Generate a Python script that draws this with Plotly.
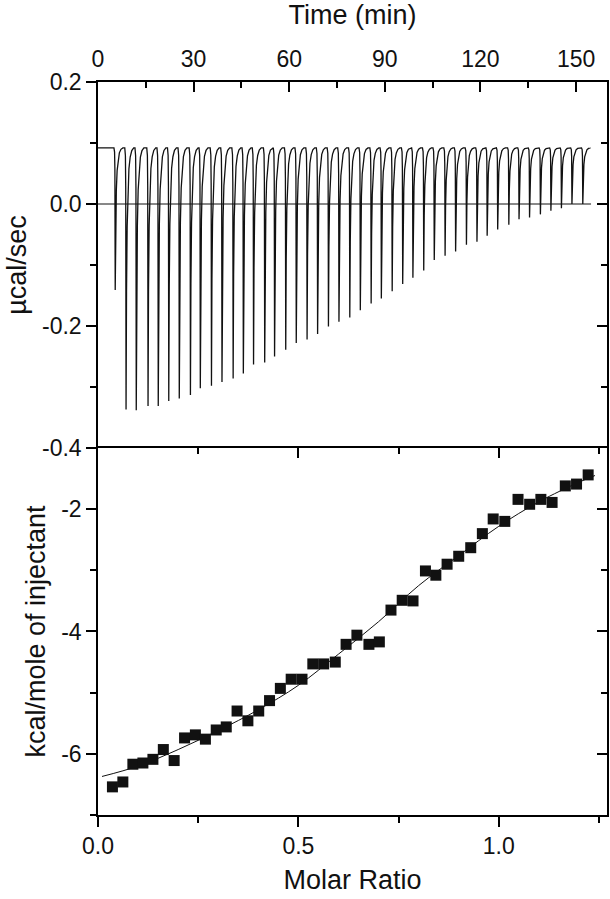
import plotly.graph_objects as go

# ── Raw ITC thermogram (top) ───────────────────────────────────────────────
inj_time = [5.3, 8.7, 11.9, 15.6, 18.8, 22.1, 25.4, 28.9, 32.0, 35.5, 38.8,
            42.3, 45.5, 48.7, 52.2, 55.3, 58.8, 62.1, 65.5, 68.8, 72.2, 75.5,
            78.9, 82.2, 85.6, 88.8, 92.2, 95.5, 98.7, 102.1, 105.4, 108.8,
            112.1, 115.5, 118.8, 122.0, 125.3, 128.8, 132.0, 135.3, 138.7,
            142.0, 145.3, 148.6, 152.0]
inj_min = [-0.141, -0.337, -0.338, -0.331, -0.331, -0.323, -0.319, -0.313,
           -0.302, -0.298, -0.292, -0.286, -0.278, -0.263, -0.260, -0.250,
           -0.239, -0.228, -0.222, -0.213, -0.201, -0.193, -0.186, -0.174,
           -0.163, -0.155, -0.143, -0.131, -0.121, -0.109, -0.092, -0.085,
           -0.078, -0.067, -0.062, -0.052, -0.042, -0.034, -0.025, -0.022,
           -0.017, -0.011, -0.007, 0.000, 0.000]
baseline = 0.092
trace_end = 154.4
zero_line_x = [0, 154.7]
zero_line_y = [0, 0]

peak_dt = [-0.3, -0.1, 0.0, 0.1, 0.25, 0.45, 0.7, 1.0, 1.4, 1.9, 2.5]
peak_frac = [0, 0.03, 0.15, 1.0, 0.55, 0.3, 0.16, 0.08, 0.035, 0.01, 0]

# ── Integrated heats (bottom) ──────────────────────────────────────────────
molar_ratio = [0.036, 0.062, 0.087, 0.112, 0.137, 0.163, 0.190, 0.216, 0.243,
               0.268, 0.295, 0.320, 0.347, 0.374, 0.401, 0.428, 0.455, 0.482,
               0.509, 0.536, 0.563, 0.592, 0.619, 0.646, 0.676, 0.702, 0.731,
               0.759, 0.786, 0.817, 0.843, 0.871, 0.900, 0.930, 0.959, 0.986,
               1.015, 1.048, 1.077, 1.105, 1.133, 1.166, 1.194, 1.223]
heat = [-6.54, -6.46, -6.17, -6.15, -6.09, -5.93, -6.11, -5.74, -5.69, -5.76,
        -5.61, -5.56, -5.30, -5.46, -5.30, -5.13, -4.93, -4.78, -4.78, -4.53,
        -4.53, -4.50, -4.21, -4.06, -4.21, -4.17, -3.65, -3.49, -3.50, -3.01,
        -3.08, -2.90, -2.77, -2.63, -2.40, -2.16, -2.20, -1.84, -1.92, -1.84,
        -1.89, -1.62, -1.59, -1.44]
fit_x = [0.01, 0.1, 0.2, 0.3, 0.4, 0.5, 0.6, 0.7, 0.8, 0.9, 1.0, 1.1, 1.2, 1.24]
fit_y = [-6.37, -6.20, -5.93, -5.62, -5.28, -4.88, -4.37, -3.84, -3.25, -2.76,
         -2.28, -1.88, -1.56, -1.45]

# build the thermogram trace from the injection list
tx, ty = [0.0], [baseline]
for t, m in zip(inj_time, inj_min):
    for dt, f in zip(peak_dt, peak_frac):
        tx.append(t + dt)
        ty.append(baseline - (baseline - m) * f)
tx.append(trace_end)
ty.append(baseline)

FONT = "Liberation Sans, Arial, sans-serif"
INK = "#111111"
SPLIT = 0.5007

fig = go.Figure()
fig.add_trace(go.Scatter(x=zero_line_x, y=zero_line_y, mode="lines",
                         line=dict(color=INK, width=1), xaxis="x", yaxis="y"))
fig.add_trace(go.Scatter(x=tx, y=ty, mode="lines",
                         line=dict(color=INK, width=1.3), xaxis="x", yaxis="y"))
fig.add_trace(go.Scatter(x=[None], y=[None], xaxis="x", yaxis="y3"))
fig.add_trace(go.Scatter(x=fit_x, y=fit_y, mode="lines", line_shape="spline",
                         line=dict(color=INK, width=1), xaxis="x2", yaxis="y2"))
fig.add_trace(go.Scatter(x=molar_ratio, y=heat, mode="markers",
                         marker=dict(symbol="square", size=11, color=INK),
                         xaxis="x2", yaxis="y2"))
fig.add_trace(go.Scatter(x=[None], y=[None], xaxis="x3", yaxis="y2"))
fig.add_trace(go.Scatter(x=[None], y=[None], xaxis="x2", yaxis="y4"))

ax = dict(showline=True, linecolor="black", linewidth=1.5, showgrid=False,
          zeroline=False, tickcolor="black", tickwidth=1.5, ticklen=10,
          tickfont=dict(size=23, color=INK, family=FONT), tickmode="array",
          automargin=False)

t_ticks = [0, 30, 60, 90, 120, 150]
t_minor = [15, 45, 75, 105, 135]
p_ticks = [-0.4, -0.2, 0.0, 0.2]
p_text = ["-0.4", "-0.2", "0.0", "0.2"]
p_minor = [-0.3, -0.1, 0.1]
m_ticks = [0.0, 0.5, 1.0]
m_text = ["0.0", "0.5", "1.0"]
m_minor = [0.25, 0.75, 1.25]
h_ticks = [-6, -4, -2]
h_text = ["-6", "-4", "-2"]
h_minor = [-7, -5, -3, -1]

fig.update_layout(
    width=610, height=899, showlegend=False,
    paper_bgcolor="white", plot_bgcolor="white",
    margin=dict(l=98, r=3, t=82, b=84),
    font=dict(family=FONT, color=INK),
    xaxis=dict(ax, domain=[0, 1], anchor="y", side="top", range=[0, 159.7],
               tickvals=t_ticks, ticks="inside", ticklabelstandoff=4,
               minor=dict(tickvals=t_minor, ticks="inside", ticklen=6,
                          tickcolor="black", tickwidth=1.5),
               title=dict(text="Time (min)", font=dict(size=27), standoff=18)),
    yaxis=dict(ax, domain=[SPLIT, 1], anchor="x", range=[-0.4, 0.2],
               tickvals=p_ticks, ticktext=p_text, ticks="outside",
               minor=dict(tickvals=p_minor, ticks="outside", ticklen=6,
                          tickcolor="black", tickwidth=1.5),
               title=dict(text="µcal/sec", font=dict(size=27), standoff=8)),
    yaxis3=dict(ax, overlaying="y", anchor="x", side="right", range=[-0.4, 0.2],
                tickvals=p_ticks, ticks="inside", showticklabels=False,
                minor=dict(tickvals=p_minor, ticks="inside", ticklen=6,
                           tickcolor="black", tickwidth=1.5)),
    xaxis2=dict(ax, domain=[0, 1], anchor="y2", side="bottom", range=[0, 1.27],
                tickvals=m_ticks, ticktext=m_text, ticks="outside",
                minor=dict(tickvals=m_minor, ticks="outside", ticklen=6,
                           tickcolor="black", tickwidth=1.5),
                title=dict(text="Molar Ratio", font=dict(size=27), standoff=12)),
    xaxis3=dict(ax, overlaying="x2", anchor="y2", side="top", range=[0, 1.27],
                tickvals=m_ticks, ticks="inside", showticklabels=False,
                minor=dict(tickvals=m_minor, ticks="inside", ticklen=6,
                           tickcolor="black", tickwidth=1.5)),
    yaxis2=dict(ax, domain=[0, SPLIT], anchor="x2", range=[-7, -1],
                tickvals=h_ticks, ticktext=h_text, ticks="outside",
                minor=dict(tickvals=h_minor, ticks="outside", ticklen=6,
                           tickcolor="black", tickwidth=1.5),
                title=dict(text="kcal/mole of injectant", font=dict(size=27),
                           standoff=8)),
    yaxis4=dict(ax, overlaying="y2", anchor="x2", side="right", range=[-7, -1],
                tickvals=h_ticks, ticks="inside", showticklabels=False,
                minor=dict(tickvals=h_minor, ticks="inside", ticklen=6,
                           tickcolor="black", tickwidth=1.5)),
)

# the page body has a default 8px margin; drop it so the figure fills the window
fig.write_html("out.html", config={"displayModeBar": False},
               post_script="document.body.style.margin='0';")
